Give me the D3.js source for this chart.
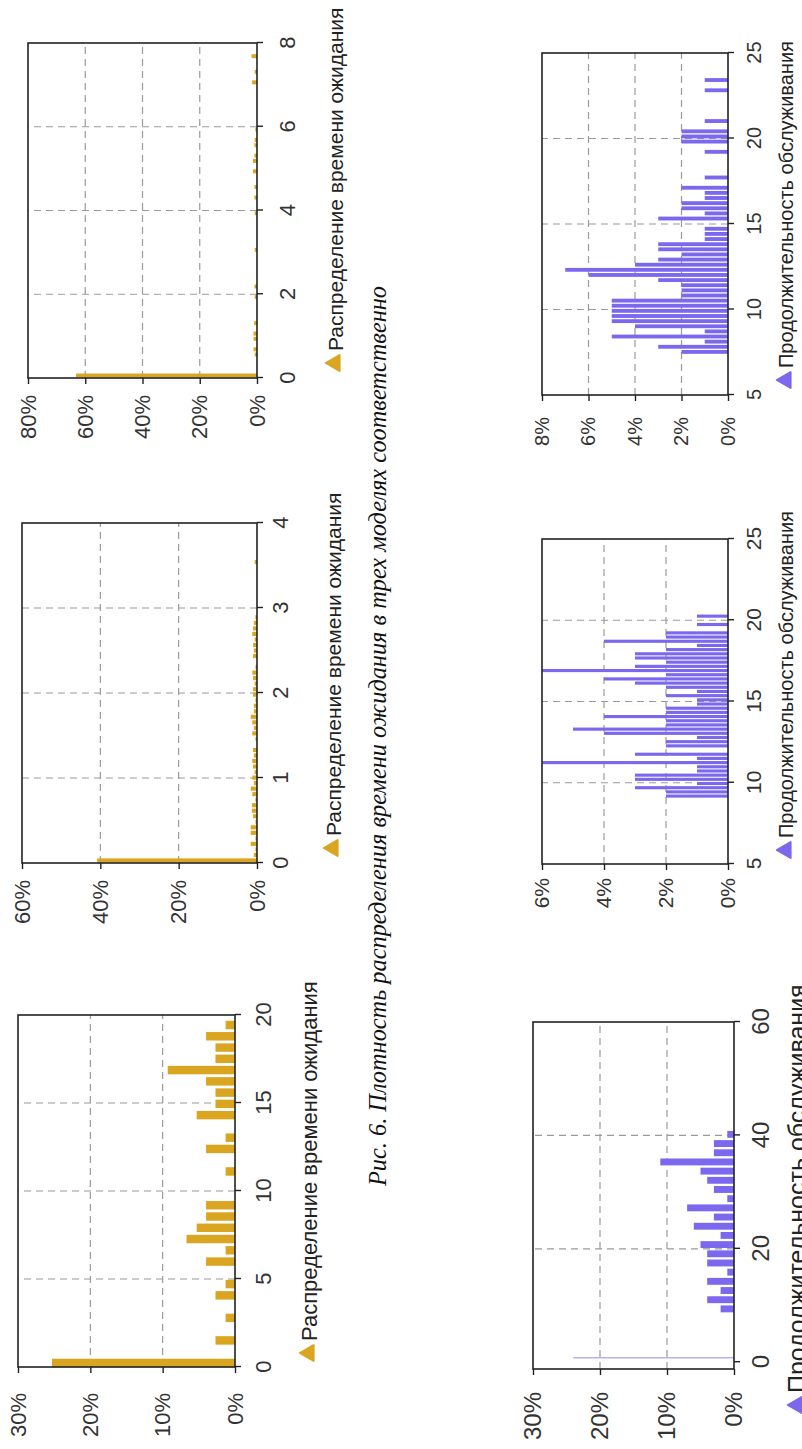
<!DOCTYPE html>
<html>
<head>
<meta charset="utf-8">
<script src="https://cdn.jsdelivr.net/npm/d3@7"></script>
<style>
body { margin: 0; background: #fff; }
svg { display: block; }
</style>
</head>
<body>
<svg id="fig" width="802" height="1449"></svg>
<script>
// histogram values, percent per bin
var wait1 = [25.3,0,2.7,0,1.3,0,2.7,1.3,0,4.0,1.3,6.7,5.3,4.0,4.0,0,0,1.3,0,4.0,1.3,0,5.3,2.7,2.7,4.0,9.3,2.7,2.7,4.0,1.3];
var wait2 = [40.8,0.8,0.4,1.6,0.4,1.6,1.6,0.4,1.0,1.3,1.3,0.4,1.2,1.6,0.8,1.2,0.6,1.0,1.2,0.8,1.0,0,0.4,1.2,0.8,1.2,1.6,0.8,0.8,0.4,1.0,1.0,0.6,1.0,1.2,0.4,0,1.0,0.8,1.0,0.6,1.2,1.0,0.8,0.4,0,0,0,0,0,0,0,0,0,0.6];
var wait3 = [63.2,0,0,0,0.8,1.2,0,1.2,1.2,0,1.0,0,0,0,0,0.8,0,0.9,0,0,0,0,0,0,0.8,0,0,0,0,0,0,0.8,0,0,0.9,0,0.9,0,0,1.4,0,1.4,0.9,0,0.9,0.8,0,0.6,0,0,0,0,0,0,0,0,1.7,0,0.8,0,0,1.9];
var serv1 = [2,4,2,4,1,4,4,5,2,6,3,7,1,3,4,5,11,3,3,1];
var serv1Spike = [0.8, 24];
var serv2 = [2,2,3,1,3,3,1,1,6,1,3,0,2,2,1,4,5,2,2,4,2,2,1,1,2,1,2,3,4,2,6,3,2,3,3,2,1,4,2,2,0,1,0,1];
var serv3 = [2,3,1,5,1,4,5,5,5,5,5,2,2,2,3,6,7,4,3,2,3,3,1,1,1,0,3,1,2,2,1,1,2,0,1,0,0,0,0,1,0,2,2,2,0,1,0,0,0,0,0,1,0,1];

// first bin centre and bin width
var waitBins = [[0.23, 0.64], [0.03, 0.065], [0.06, 0.125]];
var servBins = [[9.4, 1.62], [9.18, 0.2575], [7.52, 0.3]];

var waitXTicks = [[0,5,10,15,20], [0,1,2,3,4], [0,2,4,6,8]];
var waitYTicks = [[0,10,20,30], [0,20,40,60], [0,20,40,60,80]];
var servXTicks = [[0,20,40,60], [5,10,15,20,25], [5,10,15,20,25]];
var servYTicks = [[0,10,20,30], [0,2,4,6], [0,2,4,6,8]];

var waitLabel = "Распределение времени ожидания";
var servLabel = "Продолжительность обслуживания";
var caption = "Рис. 6. Плотность распределения времени ожидания в трех моделях соответственно";

var GOLD = "#DAA520",
    SLATE = "#7B68EE",
    GRID = "#9a9a9a",
    FRAME = "#222";

var FONT = "'Liberation Sans', Arial, sans-serif";

// the page is a landscape sheet turned a quarter to the left
var W = 1449, H = 802;
var svg = d3.select("#fig");
svg.append("rect").attr("width", 802).attr("height", 1449).attr("fill", "#fff");
var page = svg.append("g").attr("transform", "translate(0," + W + ") rotate(-90)");

var charts = [
    { vals: wait1, bins: waitBins[0], xd: [0, 20], xr: [82, 434], yr: [235, 18], xt: waitXTicks[0], yt: waitYTicks[0],
      col: GOLD, fs: 22, lblX: 56, xLblC: 263, leg: [96, 309], legFs: 22, text: waitLabel },
    { vals: wait2, bins: waitBins[1], xd: [0, 4], xr: [586, 926], yr: [257, 22], xt: waitXTicks[1], yt: waitYTicks[1],
      col: GOLD, fs: 22, lblX: 569, xLblC: 280, leg: [601, 333], legFs: 21, text: waitLabel },
    { vals: wait3, bins: waitBins[2], xd: [0, 8], xr: [1071, 1406], yr: [257, 28], xt: waitXTicks[2], yt: waitYTicks[2],
      col: GOLD, fs: 22, lblX: 1054, xLblC: 287, leg: [1086, 335], legFs: 21, text: waitLabel },
    { vals: serv1, bins: servBins[0], xd: [-1.2, 60], xr: [80, 427], yr: [734, 533], xt: servXTicks[0], yt: servYTicks[0],
      col: SLATE, fs: 24, lblX: 57, xLblC: 761, leg: [44, 797], legFs: 25, text: servLabel, spike: serv1Spike },
    { vals: serv2, bins: servBins[1], xd: [5, 25], xr: [585, 910], yr: [728, 542], xt: servXTicks[1], yt: servYTicks[1],
      col: SLATE, fs: 21, lblX: 571, xLblC: 754, leg: [599, 786], legFs: 20, text: servLabel },
    { vals: serv3, bins: servBins[2], xd: [5, 25], xr: [1054, 1396], yr: [728, 542], xt: servXTicks[2], yt: servYTicks[2],
      col: SLATE, fs: 20, lblX: 1032, xLblC: 754, leg: [1069, 786], legFs: 20, text: servLabel }
];

charts.forEach(function(c) {
    var x = d3.scaleLinear().domain(c.xd).range(c.xr);
    var yMax = c.yt[c.yt.length - 1];
    var y = d3.scaleLinear().domain([0, yMax]).range(c.yr);
    var g = page.append("g");

    // dashed grid
    g.selectAll(".vg")
        .data(c.xt.filter(function(t) { return t > c.xd[0] && t < c.xd[1] && t != 0; }))
        .enter().append("line")
        .attr("x1", function(d) { return x(d); }).attr("x2", function(d) { return x(d); })
        .attr("y1", c.yr[0]).attr("y2", c.yr[1])
        .attr("stroke", GRID).attr("stroke-width", 1.2).attr("stroke-dasharray", "7,5");
    g.selectAll(".hg")
        .data(c.yt.filter(function(t) { return t > 0 && t < yMax; }))
        .enter().append("line")
        .attr("x1", c.xr[0]).attr("x2", c.xr[1])
        .attr("y1", function(d) { return y(d); }).attr("y2", function(d) { return y(d); })
        .attr("stroke", GRID).attr("stroke-width", 1.2).attr("stroke-dasharray", "7,5");

    // bars
    var c0 = c.bins[0], bw = c.bins[1], half = bw * 0.75 / 2;
    var bars = c.vals.map(function(p, i) { return { v: c0 + i * bw, p: p }; })
        .filter(function(d) { return d.p > 0; });
    g.selectAll(".bar")
        .data(bars)
        .enter().append("rect")
        .attr("x", function(d) { return x(d.v - half); })
        .attr("width", function(d) { return x(d.v + half) - x(d.v - half); })
        .attr("y", function(d) { return y(d.p); })
        .attr("height", function(d) { return c.yr[0] - y(d.p); })
        .attr("fill", c.col);

    if (c.spike) {
        g.append("line")
            .attr("x1", x(c.spike[0])).attr("x2", x(c.spike[0]))
            .attr("y1", c.yr[0]).attr("y2", y(c.spike[1]))
            .attr("stroke", "#b9b1f4").attr("stroke-width", 1.5);
    }

    // frame
    g.append("rect")
        .attr("x", c.xr[0]).attr("y", c.yr[1])
        .attr("width", c.xr[1] - c.xr[0]).attr("height", c.yr[0] - c.yr[1])
        .attr("fill", "none").attr("stroke", FRAME).attr("stroke-width", 1.6);

    // axes
    var padX = c.xLblC - 0.36 * c.fs - c.yr[0] - 6;
    var xa = g.append("g")
        .attr("transform", "translate(0," + c.yr[0] + ")")
        .call(d3.axisBottom(x).tickValues(c.xt).tickSize(6).tickSizeOuter(0).tickPadding(padX)
            .tickFormat(d3.format("d")));
    var padY = c.xr[0] - 6 - c.lblX;
    var ya = g.append("g")
        .attr("transform", "translate(" + c.xr[0] + ",0)")
        .call(d3.axisLeft(y).tickValues(c.yt).tickSize(6).tickSizeOuter(0).tickPadding(padY)
            .tickFormat(function(d) { return d + "%"; }));
    [xa, ya].forEach(function(a) {
        a.select(".domain").remove();
        a.selectAll(".tick line").attr("stroke", FRAME).attr("stroke-width", 1.4);
        a.selectAll(".tick text").attr("fill", "#333").style("font-family", FONT).style("font-size", c.fs + "px");
    });

    // legend
    g.append("path")
        .attr("d", d3.symbol().type(d3.symbolTriangle).size(110)())
        .attr("transform", "translate(" + c.leg[0] + "," + c.leg[1] + ")")
        .attr("fill", c.col).attr("stroke", c.col).attr("stroke-width", 2).attr("stroke-linejoin", "round");
    g.append("text")
        .attr("x", c.leg[0] + 12).attr("y", c.leg[1] + 0.36 * c.legFs)
        .style("font-family", FONT).style("font-size", c.legFs + "px")
        .attr("fill", "#222")
        .text(c.text);
});

page.append("text")
    .attr("x", 713).attr("y", 386)
    .attr("text-anchor", "middle")
    .attr("textLength", 900).attr("lengthAdjust", "spacingAndGlyphs")
    .style("font-family", "'Liberation Serif', 'Times New Roman', serif")
    .style("font-style", "italic")
    .style("font-size", "26px")
    .attr("fill", "#111")
    .text(caption);
</script>
</body>
</html>
